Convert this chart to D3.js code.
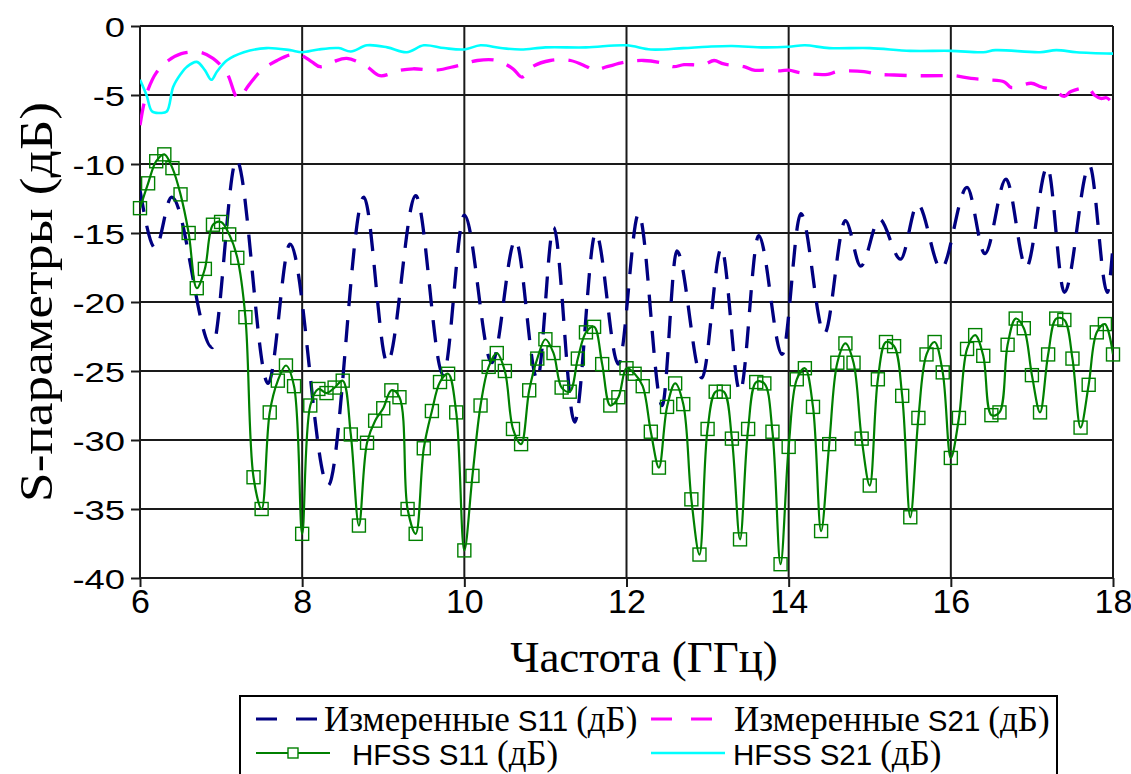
<!DOCTYPE html>
<html>
<head>
<meta charset="utf-8">
<script src="https://cdn.jsdelivr.net/npm/d3@7"></script>
<style>
  html, body { margin: 0; padding: 0; background: #fff; }
  svg { display: block; }
</style>
</head>
<body>
<svg id="chart" width="1131" height="774"></svg>
<script>
// ---------------- DATA ----------------
const xTicks = [6, 8, 10, 12, 14, 16, 18];
const yTicks = [0, -5, -10, -15, -20, -25, -30, -35, -40];
const yTickLabels = ["0", "-5", "-10", "-15", "-20", "-25", "-30", "-35", "-40"];

// HFSS S11 (dB), 6.0 ... 18.0 GHz, step 0.1 GHz
const hfssS11Start = 6.0, hfssS11Step = 0.1;
const hfssS11 = [
  -13.2, -11.4, -9.8, -9.3, -10.3, -12.2, -15.0, -19.0, -17.6, -14.4,
  -14.2, -15.1, -16.8, -21.1, -32.7, -35.0, -28.0, -25.7, -24.6, -26.1,
  -36.8, -27.5, -26.3, -26.6, -26.2, -25.7, -29.6, -36.2, -30.2, -28.6,
  -27.7, -26.4, -26.9, -35.0, -36.8, -30.6, -27.9, -25.8, -25.2, -28.0,
  -38.0, -32.6, -27.5, -24.7, -23.7, -25.0, -29.2, -30.3, -26.4, -24.1,
  -22.7, -23.7, -26.2, -26.5, -24.1, -22.2, -21.8, -24.5, -27.5, -26.9,
  -24.8, -25.2, -26.1, -29.4, -32.0, -27.6, -25.9, -27.4, -34.3, -38.3,
  -29.2, -26.5, -26.5, -29.9, -37.2, -29.2, -25.8, -25.9, -29.4, -39.0,
  -30.5, -25.6, -24.8, -27.6, -36.6, -30.3, -24.4, -23.0, -24.4, -29.9,
  -33.3, -25.6, -22.9, -23.2, -26.8, -35.6, -28.4, -23.8, -22.9, -25.1,
  -31.3, -28.4, -23.4, -22.4, -23.9, -28.2, -28.0, -23.1, -21.2, -21.9,
  -25.3, -28.0, -23.8, -21.2, -21.3, -24.1, -29.1, -26.0, -22.2, -21.6,
  -23.8
];

// Measured S11 (turning points)
const measS11Freq = [6.00, 6.19, 6.39, 6.89, 7.19, 7.58, 7.85, 8.32, 8.76, 9.05,
  9.40, 9.74, 10.00, 10.34, 10.63, 10.90, 11.10, 11.36, 11.62, 11.90,
  12.15, 12.44, 12.62, 12.93, 13.17, 13.40, 13.63, 13.92, 14.15, 14.44,
  14.70, 14.89, 15.12, 15.38, 15.59, 15.88, 16.20, 16.42, 16.68, 16.93,
  17.19, 17.40, 17.71, 17.93, 18.00];
const measS11 = [-11.9, -16.1, -12.4, -23.3, -9.7, -25.9, -15.8, -33.3, -12.4, -24.4,
  -12.3, -25.3, -13.7, -24.4, -15.5, -25.6, -14.6, -28.7, -15.0, -24.5,
  -13.6, -27.5, -16.3, -25.5, -16.1, -26.5, -15.2, -23.8, -13.6, -22.3,
  -14.1, -17.4, -14.0, -16.9, -12.9, -17.6, -11.7, -16.5, -11.1, -17.5,
  -10.2, -19.3, -10.1, -19.3, -15.9];

// Measured S21
const measS21Freq = [6.00, 6.05, 6.10, 6.20, 6.35, 6.51, 6.74, 6.90, 7.07, 7.21,
  7.34, 7.50, 7.69, 7.85, 7.98, 8.12, 8.22, 8.38, 8.55, 8.80,
  8.96, 9.21, 9.37, 9.65, 9.90, 10.16, 10.40, 10.60, 10.71, 10.84,
  11.06, 11.31, 11.51, 11.60, 11.76, 12.00, 12.21, 12.46, 12.58, 12.71,
  12.95, 13.08, 13.20, 13.45, 13.57, 13.69, 13.90, 14.00, 14.15, 14.48,
  14.60, 14.93, 15.10, 15.30, 15.55, 15.90, 16.04, 16.25, 16.45, 16.66,
  16.74, 16.82, 16.99, 17.11, 17.28, 17.40, 17.48, 17.69, 17.77, 17.85,
  17.92, 18.00];
const measS21 = [-7.2, -5.6, -4.6, -3.4, -2.5, -2.0, -1.9, -2.35, -3.4, -5.25,
  -4.3, -3.2, -2.5, -2.1, -2.1, -2.6, -2.95, -2.6, -2.35, -2.95,
  -3.6, -3.2, -3.1, -3.2, -2.9, -2.5, -2.5, -3.1, -3.7, -2.95,
  -2.5, -2.5, -2.95, -3.2, -2.95, -2.6, -2.5, -2.7, -2.95, -2.8,
  -2.8, -2.5, -2.75, -2.95, -3.2, -3.2, -3.25, -3.2, -3.4, -3.5,
  -3.3, -3.3, -3.5, -3.55, -3.6, -3.6, -3.6, -3.8, -3.9, -4.05,
  -4.45, -4.4, -4.15, -4.4, -4.7, -5.1, -4.75, -4.5, -5.0, -5.25,
  -5.2, -5.6];

// HFSS S21
const hfssS21Freq = [6.00, 6.08, 6.15, 6.25, 6.33, 6.41, 6.50, 6.58, 6.70, 6.80,
  6.88, 6.95, 7.07, 7.28, 7.56, 7.85, 8.00, 8.20, 8.45, 8.60,
  8.80, 9.05, 9.29, 9.50, 9.75, 10.00, 10.20, 10.45, 10.70, 11.00,
  11.50, 12.00, 12.30, 12.70, 13.00, 13.30, 13.70, 14.00, 14.20, 14.50,
  15.00, 15.50, 16.00, 16.40, 16.55, 17.10, 17.30, 17.55, 18.00];
const hfssS21 = [-3.9, -5.0, -6.2, -6.3, -6.2, -4.4, -3.5, -2.95, -2.6, -3.2,
  -3.9, -3.3, -2.5, -1.9, -1.6, -1.75, -1.9, -1.7, -1.6, -1.85,
  -1.4, -1.55, -1.9, -1.4, -1.6, -1.7, -1.4, -1.6, -1.7, -1.55,
  -1.55, -1.4, -1.7, -1.6, -1.5, -1.45, -1.55, -1.5, -1.4, -1.6,
  -1.6, -1.8, -1.8, -1.9, -1.75, -1.9, -1.75, -1.9, -2.0];

const legendLabels = ["Измеренные", "S11", "(дБ)", "Измеренные", "S21", "(дБ)", "HFSS", "S11", "(дБ)", "HFSS", "S21", "(дБ)"];
const xTitle = "Частота (ГГц)";
const yTitle = "S-параметры (дБ)";

// ---------------- DRAWING ----------------
const svg = d3.select("#chart");
const x = d3.scaleLinear().domain([6, 18]).range([140, 1113]);
const y = d3.scaleLinear().domain([-40, 0]).range([578, 26]);

const sans = "'Liberation Sans', Arial, sans-serif";
const serif = "'Liberation Serif', 'Times New Roman', serif";

svg.append("rect").attr("width", 1131).attr("height", 774).attr("fill", "#fff");

// grid
const grid = svg.append("g");
grid.selectAll("line.h").data(yTicks).join("line")
  .attr("x1", x(6)).attr("x2", x(18))
  .attr("y1", d => y(d)).attr("y2", d => y(d))
  .attr("stroke", "#1a1a1a").attr("stroke-width", 2);
grid.selectAll("line.v").data(xTicks).join("line")
  .attr("y1", y(0)).attr("y2", y(-40))
  .attr("x1", d => x(d)).attr("x2", d => x(d))
  .attr("stroke", "#1a1a1a").attr("stroke-width", 2);

// axes
const yAxis = svg.append("g").attr("transform", `translate(${x(6)},0)`)
  .call(d3.axisLeft(y).tickValues(yTicks).tickSize(9).tickFormat((d, i) => yTickLabels[i]));
yAxis.select(".domain").remove();
yAxis.selectAll(".tick line").attr("stroke", "#1a1a1a").attr("stroke-width", 2);
yAxis.selectAll(".tick text")
  .attr("font-family", sans).attr("font-size", 28).attr("fill", "#000")
  .attr("x", -11.5).attr("dy", "0.36em")
  .attr("transform", "scale(1.3,1)");

const xAxis = svg.append("g").attr("transform", `translate(0,${y(-40)})`)
  .call(d3.axisBottom(x).tickValues(xTicks).tickSize(9).tickFormat(d => String(d)));
xAxis.select(".domain").remove();
xAxis.selectAll(".tick line").attr("stroke", "#1a1a1a").attr("stroke-width", 2);
xAxis.selectAll(".tick text")
  .attr("font-family", sans).attr("font-size", 34).attr("fill", "#000")
  .attr("y", 11).attr("dy", "0.71em");

// titles
svg.append("text").attr("x", 644).attr("y", 672)
  .attr("text-anchor", "middle").attr("font-family", serif).attr("font-size", 45)
  .text(xTitle);
svg.append("text").attr("transform", "translate(52,302) rotate(-90)")
  .attr("text-anchor", "middle").attr("font-family", serif).attr("font-size", 46)
  .attr("textLength", 400).attr("lengthAdjust", "spacingAndGlyphs")
  .text(yTitle);

// series
svg.append("clipPath").attr("id", "plotclip")
  .append("rect").attr("x", x(6)).attr("y", y(0) - 2).attr("width", x(18) - x(6)).attr("height", y(-40) - y(0) + 4);

const plot = svg.append("g").attr("clip-path", "url(#plotclip)");

const measS11Pts = measS11Freq.map((f, i) => [f, measS11[i]]);
const measS21Pts = measS21Freq.map((f, i) => [f, measS21[i]]);
const hfssS11Pts = hfssS11.map((v, i) => [hfssS11Start + i * hfssS11Step, v]);
const hfssS21Pts = hfssS21Freq.map((f, i) => [f, hfssS21[i]]);

const lineMono = d3.line().x(d => x(d[0])).y(d => y(d[1])).curve(d3.curveMonotoneX);
const lineCR = d3.line().x(d => x(d[0])).y(d => y(d[1])).curve(d3.curveCatmullRom.alpha(0.5));

plot.append("path").datum(measS11Pts).attr("d", lineMono)
  .attr("fill", "none").attr("stroke", "#000080").attr("stroke-width", 3.3)
  .attr("stroke-dasharray", "22,14");
plot.append("path").datum(measS21Pts).attr("d", lineCR)
  .attr("fill", "none").attr("stroke", "#ff00ff").attr("stroke-width", 3.3)
  .attr("stroke-dasharray", "22,14");
plot.append("path").datum(hfssS11Pts).attr("d", lineCR)
  .attr("fill", "none").attr("stroke", "#008000").attr("stroke-width", 2.2);
svg.append("g").selectAll("rect").data(hfssS11Pts).join("rect")
  .attr("x", d => x(d[0]) - 6.5).attr("y", d => y(d[1]) - 6.5)
  .attr("width", 13).attr("height", 13)
  .attr("fill", "none").attr("stroke", "#008000").attr("stroke-width", 1.4);
plot.append("path").datum(hfssS21Pts).attr("d", lineCR)
  .attr("fill", "none").attr("stroke", "#00ffff").attr("stroke-width", 2.6);

// legend
const lg = svg.append("g");
lg.append("rect").attr("x", 240).attr("y", 696).attr("width", 817).attr("height", 100)
  .attr("fill", "#fff").attr("stroke", "#000").attr("stroke-width", 2);

const row1 = 719, row2 = 753;
lg.append("line").attr("x1", 256).attr("x2", 318).attr("y1", row1).attr("y2", row1)
  .attr("stroke", "#000080").attr("stroke-width", 3.2).attr("stroke-dasharray", "21,19");
lg.append("line").attr("x1", 651).attr("x2", 712).attr("y1", row1).attr("y2", row1)
  .attr("stroke", "#ff00ff").attr("stroke-width", 3.2).attr("stroke-dasharray", "21,19");
lg.append("line").attr("x1", 256).attr("x2", 330).attr("y1", row2).attr("y2", row2)
  .attr("stroke", "#008000").attr("stroke-width", 2.2);
lg.append("rect").attr("x", 288).attr("y", row2 - 5).attr("width", 10).attr("height", 10)
  .attr("fill", "#fff").attr("stroke", "#008000").attr("stroke-width", 1.4);
lg.append("line").attr("x1", 651).attr("x2", 725).attr("y1", row2).attr("y2", row2)
  .attr("stroke", "#00ffff").attr("stroke-width", 2.6);

// each legend entry: separate text pieces laid out left to right
function legendText(xPos, yPos, parts) {
  let cx = xPos;
  parts.forEach(p => {
    const t = lg.append("text").attr("x", cx).attr("y", yPos).attr("fill", "#000")
      .attr("font-family", p.f === "s" ? sans : serif)
      .attr("font-size", p.f === "s" ? 29.5 : 35)
      .text(p.t);
    cx += t.node().getComputedTextLength() + 8;
  });
}
legendText(324, row1 + 12, [{t: legendLabels[0], f: "r"}, {t: legendLabels[1], f: "s"}, {t: legendLabels[2], f: "r"}]);
legendText(734, row1 + 12, [{t: legendLabels[3], f: "r"}, {t: legendLabels[4], f: "s"}, {t: legendLabels[5], f: "r"}]);
legendText(352, row2 + 12, [{t: legendLabels[6], f: "s"}, {t: legendLabels[7], f: "s"}, {t: legendLabels[8], f: "r"}]);
legendText(733, row2 + 12, [{t: legendLabels[9], f: "s"}, {t: legendLabels[10], f: "s"}, {t: legendLabels[11], f: "r"}]);
</script>
</body>
</html>
